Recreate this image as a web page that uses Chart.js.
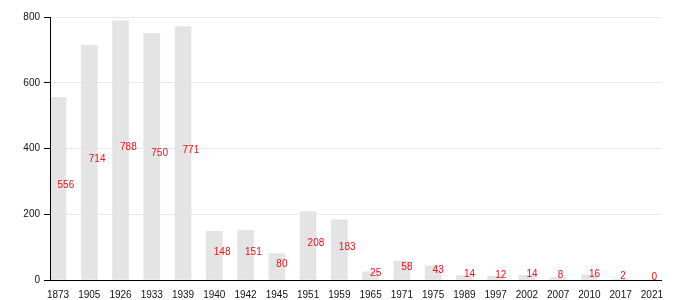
<!DOCTYPE html>
<html>
<head>
<meta charset="utf-8">
<script src="https://cdn.jsdelivr.net/npm/chart.js@4/dist/chart.umd.min.js"></script>
<style>
  html, body { margin: 0; padding: 0; background: #fff; }
  #wrap { width: 700px; height: 300px; }
</style>
</head>
<body>
<div id="wrap"><canvas id="chart"></canvas></div>
<script>
// population by census year
const years = ['1873', '1905', '1926', '1933', '1939', '1940', '1942', '1945', '1951', '1959',
               '1965', '1971', '1975', '1989', '1997', '2002', '2007', '2010', '2017', '2021'];
const population = [556, 714, 788, 750, 771, 148, 151, 80, 208, 183,
                    25, 58, 43, 14, 12, 14, 8, 16, 2, 0];
const yTicks = [0, 200, 400, 600, 800];

// red value labels half way up each bar, plus the y axis line on top of the bars
const valueLabels = {
    id: 'valueLabels',
    afterDatasetsDraw(chart) {
        const ctx = chart.ctx;
        const area = chart.chartArea;
        const meta = chart.getDatasetMeta(0);
        ctx.save();
        ctx.strokeStyle = '#000';
        ctx.lineWidth = 1;
        ctx.beginPath();
        ctx.moveTo(area.left + 0.5, area.top);
        ctx.lineTo(area.left + 0.5, area.bottom);
        ctx.stroke();

        ctx.font = '10px "Liberation Sans", Arial, sans-serif';
        ctx.fillStyle = '#e8101a';
        ctx.textAlign = 'left';
        ctx.textBaseline = 'alphabetic';
        meta.data.forEach((bar, i) => {
            const mid = (bar.y + bar.base) / 2;
            ctx.fillText(String(population[i]), bar.x - 0.5, mid);
        });
        ctx.restore();
    }
};

new Chart(document.getElementById('chart'), {
    type: 'bar',
    data: {
        datasets: [{
            data: population.map((v, i) => ({ x: i, y: v })),
            backgroundColor: '#e4e4e4',
            borderWidth: 0,
            barThickness: 16
        }]
    },
    options: {
        responsive: true,
        maintainAspectRatio: false,
        animation: false,
        layout: { padding: { left: 0, right: 39, top: 17, bottom: 0 } },
        plugins: {
            legend: { display: false },
            tooltip: { enabled: false }
        },
        scales: {
            x: {
                type: 'linear',
                offset: false,
                min: -0.256,
                max: 19.29,
                grid: { display: false, offset: false },
                border: { display: true, color: '#000', width: 1 },
                ticks: {
                    stepSize: 1,
                    includeBounds: false,
                    autoSkip: false,
                    maxTicksLimit: 40,
                    maxRotation: 0,
                    padding: 1,
                    color: '#111',
                    font: { family: '"Liberation Sans", Arial, sans-serif', size: 10 },
                    callback: (v) => Number.isInteger(v) ? years[v] : ''
                },
                afterFit(scale) { scale.height = 20; }
            },
            y: {
                min: 0,
                max: 800,
                afterBuildTicks(scale) { scale.ticks = yTicks.map(v => ({ value: v })); },
                grid: { color: '#e8e8e8', tickColor: '#000', tickLength: 6 },
                border: { display: true, color: '#000', width: 1 },
                ticks: {
                    padding: 4,
                    color: '#111',
                    font: { family: '"Liberation Sans", Arial, sans-serif', size: 10 }
                },
                afterFit(scale) { scale.width = 50; }
            }
        }
    },
    plugins: [valueLabels]
});
</script>
</body>
</html>
